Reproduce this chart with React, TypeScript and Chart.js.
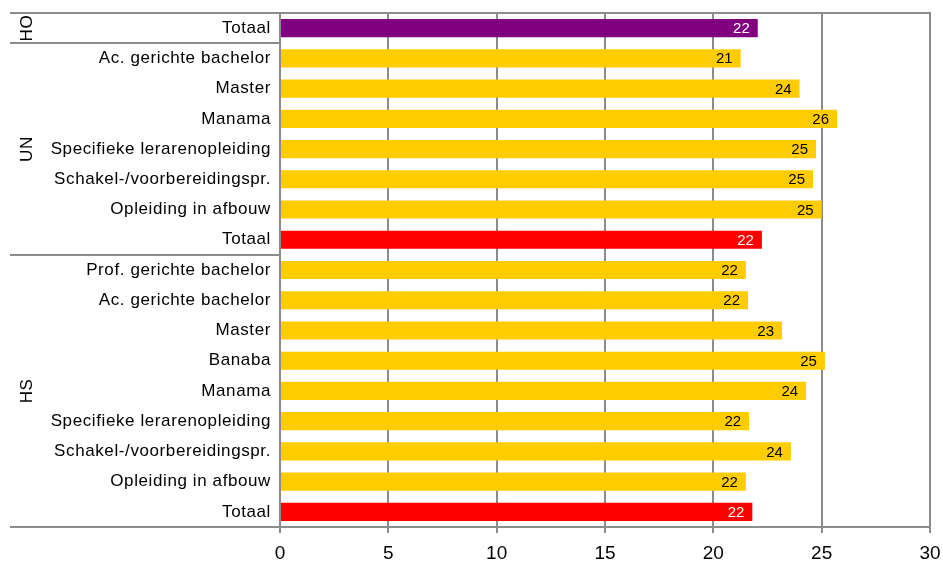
import React, { useEffect, useRef } from "react";
import { Chart, registerables } from "chart.js";

Chart.register(...registerables);

const categories = [
  "Totaal",
  "Ac. gerichte bachelor",
  "Master",
  "Manama",
  "Specifieke lerarenopleiding",
  "Schakel-/voorbereidingspr.",
  "Opleiding in afbouw",
  "Totaal",
  "Prof. gerichte bachelor",
  "Ac. gerichte bachelor",
  "Master",
  "Banaba",
  "Manama",
  "Specifieke lerarenopleiding",
  "Schakel-/voorbereidingspr.",
  "Opleiding in afbouw",
  "Totaal",
];

const values = [
  22.05, 21.26, 23.98, 25.71, 24.74, 24.6, 25.0, 22.24,
  21.5, 21.6, 23.17, 25.15, 24.28, 21.65, 23.58, 21.5, 21.8,
];

const groupNames = ["HO", "UN", "HS"];
const groupSizes = [1, 7, 9];

const xTicks = [0, 5, 10, 15, 20, 25, 30];

const PURPLE = "#800080";
const YELLOW = "#FFCC00";
const RED = "#FF0000";
const GRID = "#8c8c8c";
const FONT = "'Liberation Sans', Arial, sans-serif";

const barColors = categories.map((c, i) => {
  if (c === "Totaal") return i === 0 ? PURPLE : RED;
  return YELLOW;
});

const overlayPlugin = {
  id: "overlay",
  afterDraw(chart: any) {
    const { ctx, chartArea } = chart;
    const yScale = chart.scales.y;
    const leftX = 10;
    ctx.save();
    ctx.strokeStyle = GRID;
    ctx.lineWidth = 2;
    // top line
    ctx.beginPath();
    ctx.moveTo(leftX, Math.round(chartArea.top));
    ctx.lineTo(chartArea.right + 1, Math.round(chartArea.top));
    ctx.stroke();
    // bottom line extension
    ctx.beginPath();
    ctx.moveTo(leftX, Math.round(chartArea.bottom));
    ctx.lineTo(chartArea.left, Math.round(chartArea.bottom));
    ctx.stroke();

    // category labels
    ctx.save();
    ctx.fillStyle = "#000";
    ctx.font = `17px ${FONT}`;
    (ctx as any).letterSpacing = "0.6px";
    ctx.textAlign = "right";
    ctx.textBaseline = "middle";
    categories.forEach((c, i) => {
      ctx.fillText(c, chartArea.left - 9, yScale.getPixelForValue(i));
    });
    ctx.restore();

    // group separators and labels
    let start = 0;
    const rowH = (chartArea.bottom - chartArea.top) / categories.length;
    groupNames.forEach((g, gi) => {
      const end = start + groupSizes[gi];
      const yTop = chartArea.top + start * rowH;
      const yBot = chartArea.top + end * rowH;
      if (gi < groupNames.length - 1) {
        ctx.beginPath();
        ctx.moveTo(leftX, Math.round(yBot));
        ctx.lineTo(chartArea.left, Math.round(yBot));
        ctx.stroke();
      }
      ctx.save();
      ctx.translate(27, (yTop + yBot) / 2);
      ctx.rotate(-Math.PI / 2);
      ctx.fillStyle = "#000";
      ctx.font = `17px ${FONT}`;
      (ctx as any).letterSpacing = "0.6px";
      ctx.textAlign = "center";
      ctx.textBaseline = "middle";
      ctx.fillText(g, 0, 0);
      ctx.restore();
      start = end;
    });

    // value labels
    const meta = chart.getDatasetMeta(0);
    ctx.font = `15px ${FONT}`;
    ctx.textAlign = "right";
    ctx.textBaseline = "middle";
    meta.data.forEach((bar: any, i: number) => {
      ctx.fillStyle = barColors[i] === YELLOW ? "#000" : "#fff";
      ctx.fillText(String(Math.round(values[i])), bar.x - 8, bar.y + 1);
    });
    ctx.restore();
  },
};

export default function App() {
  const ref = useRef<HTMLCanvasElement | null>(null);
  useEffect(() => {
    if (!ref.current) return;
    const chart = new Chart(ref.current, {
      type: "bar",
      data: {
        labels: categories,
        datasets: [
          {
            data: values,
            backgroundColor: barColors,
            borderWidth: 0,
            barPercentage: 0.6,
            categoryPercentage: 1,
          },
        ],
      },
      options: {
        indexAxis: "y",
        responsive: false,
        animation: false,
        devicePixelRatio: 1,
        layout: { padding: { top: 13, right: 13, left: 0, bottom: 0 } },
        plugins: {
          legend: { display: false },
          tooltip: { enabled: false },
        },
        scales: {
          x: {
            min: 0,
            max: 30,
            afterBuildTicks: (scale: any) => {
              scale.ticks = xTicks.map((v) => ({ value: v }));
            },
            afterFit: (scale: any) => {
              scale.height = 34;
              scale.paddingRight = 0;
              scale.paddingLeft = 0;
            },
            grid: {
              color: GRID,
              lineWidth: 2,
              tickLength: 6,
              drawTicks: true,
            },
            border: { display: true, color: GRID, width: 2 },
            ticks: {
              color: "#000",
              padding: 9,
              maxRotation: 0,
              font: { family: FONT, size: 19 },
            },
          },
          y: {
            afterFit: (scale: any) => {
              scale.width = 280;
              scale.paddingTop = 0;
              scale.paddingBottom = 0;
            },
            grid: { display: false, drawTicks: false },
            border: { display: false },
            ticks: {
              display: false,
              autoSkip: false,
            },
          },
        },
      },
      plugins: [overlayPlugin],
    });
    return () => chart.destroy();
  }, []);
  return (
    <div style={{ position: "fixed", left: 0, top: 0, width: 943, height: 561, background: "#fff" }}>
      <canvas ref={ref} width={943} height={561} />
    </div>
  );
}
